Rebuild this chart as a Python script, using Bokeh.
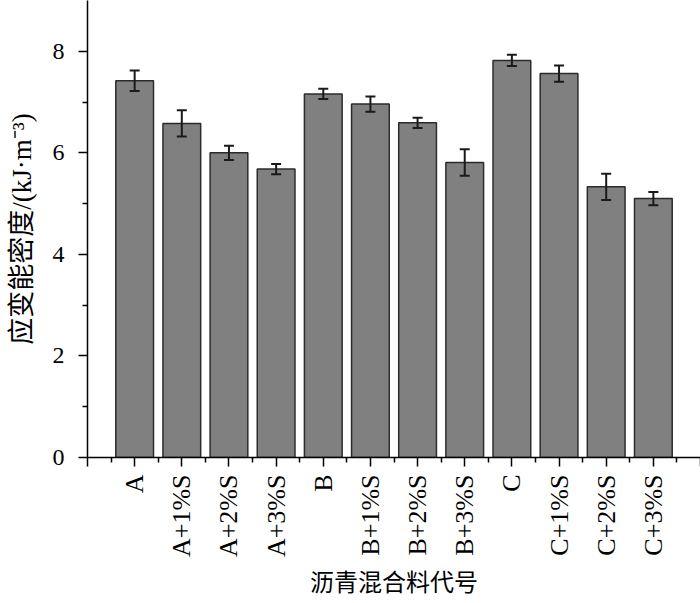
from bokeh.plotting import figure
from bokeh.models import ColumnDataSource, FixedTicker, Whisker, TeeHead, Range1d
from bokeh.embed import file_html
from bokeh.resources import INLINE
import math

categories = ["A", "A+1%S", "A+2%S", "A+3%S", "B", "B+1%S", "B+2%S", "B+3%S",
              "C", "C+1%S", "C+2%S", "C+3%S"]
values = [7.42, 6.58, 6.00, 5.68, 7.16, 6.96, 6.59, 5.81, 7.82, 7.56, 5.33, 5.10]
errors = [0.20, 0.26, 0.14, 0.10, 0.10, 0.15, 0.10, 0.26, 0.11, 0.16, 0.26, 0.13]
y_ticks = [0, 2, 4, 6, 8]
y_minor = [1, 3, 5, 7]
x_title = "沥青混合料代号"
y_title = "应变能密度/(kJ·m⁻³)"

xpos = [i + 1 for i in range(len(categories))]
src = ColumnDataSource(dict(
    x=xpos, top=values,
    upper=[v + e for v, e in zip(values, errors)],
    lower=[v - e for v, e in zip(values, errors)],
))

FONT = "'Liberation Serif', 'Times New Roman', 'Noto Sans CJK SC'"

p = figure(width=700, height=603, output_backend="svg", toolbar_location=None,
           x_range=Range1d(0, 13.0), y_range=Range1d(0, 9.0),
           min_border_left=87, min_border_right=0, min_border_top=0,
           min_border_bottom=146)
p.outline_line_color = None
p.xgrid.visible = False
p.ygrid.visible = False

p.vbar(x="x", top="top", width=0.8, bottom=0, source=src,
       fill_color="#808080", line_color="#2b2b2b", line_width=1.5)

w = Whisker(base="x", upper="upper", lower="lower", source=src,
            line_color="#1a1a1a", line_width=2, level="overlay",
            upper_head=TeeHead(size=10, line_color="#1a1a1a", line_width=2),
            lower_head=TeeHead(size=10, line_color="#1a1a1a", line_width=2))
p.add_layout(w)

xa = p.xaxis[0]
xa.ticker = FixedTicker(ticks=[0] + xpos + [13], minor_ticks=[i + 0.5 for i in range(0, 13)])
labels = {0: "", 13: ""}
labels.update({x: c for x, c in zip(xpos, categories)})
xa.major_label_overrides = labels
xa.major_label_orientation = math.pi / 2
xa.axis_label = x_title
xa.axis_label_text_font = FONT
xa.axis_label_text_font_size = "24px"
xa.axis_label_text_font_style = "normal"
xa.axis_label_standoff = 10

ya = p.yaxis[0]
ya.ticker = FixedTicker(ticks=y_ticks, minor_ticks=y_minor)
ya.axis_label = y_title
ya.axis_label_text_font = FONT
ya.axis_label_text_font_size = "27px"
ya.axis_label_text_font_style = "normal"
ya.axis_label_standoff = 13

for ax in (xa, ya):
    ax.axis_line_color = "black"
    ax.axis_line_width = 1.5
    ax.major_tick_line_color = "black"
    ax.minor_tick_line_color = "black"
    ax.major_tick_line_width = 1.5
    ax.minor_tick_line_width = 1.5
    ax.major_tick_in = 0
    ax.major_tick_out = 9
    ax.minor_tick_in = 0
    ax.minor_tick_out = 5
    ax.major_label_text_font = FONT
    ax.major_label_text_color = "black"
    ax.axis_label_text_color = "black"

xa.major_label_text_font_size = "26px"
xa.major_label_standoff = 8
ya.major_label_text_font_size = "24px"
ya.major_label_standoff = 14

open("out.html", "w").write(file_html(p, INLINE))
